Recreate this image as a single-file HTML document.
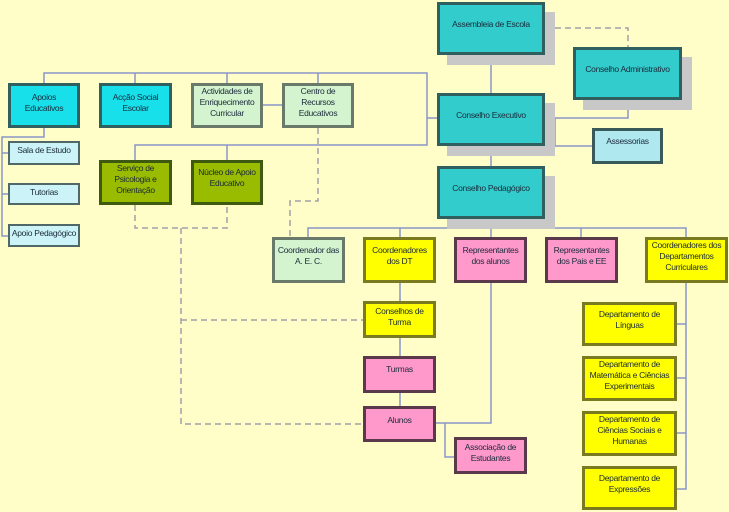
<!DOCTYPE html>
<html><head><meta charset="utf-8"><style>
body{margin:0;width:729px;height:512px;background:#fffdc8;position:relative;overflow:hidden;font-family:"Liberation Sans",sans-serif;}
.b{position:absolute;box-sizing:border-box;border:3px solid #3a5a5a;font-size:8.5px;letter-spacing:-0.3px;line-height:11px;text-align:center;color:#1a2a3a;padding:2px 0 0 0;white-space:nowrap;overflow:visible;}
.sh{position:absolute;background:#c8c8c8;}
.t{background:#33cccc;border-color:#2f5f5f;}
.tb{background:#18e0ea;border-color:#2f5f5f;}
.lc{background:#ccf4f8;border-width:2px;border-color:#506868;}
.lg{background:#d4f4d0;border-color:#6a7a6a;}
.g{background:#99bb00;border-color:#3d5a10;}
.y{background:#ffff00;border-color:#7a7a20;}
.p{background:#ff99cc;border-color:#5a3a4a;}
svg{position:absolute;left:0;top:0;}
</style></head><body>
<svg width="729" height="512">
<g stroke="#8a96c8" stroke-width="1.5" fill="none">
<polyline points="44,83 44,73 427,73 427,145 135,145 135,160"/>
<line x1="135" y1="73" x2="135" y2="83"/><line x1="227" y1="73" x2="227" y2="83"/><line x1="318" y1="73" x2="318" y2="83"/>
<line x1="227" y1="145" x2="227" y2="160"/>
<line x1="427" y1="118" x2="437" y2="118"/>
<line x1="263" y1="105" x2="282" y2="105"/>
<polyline points="44,128 44,137 2,137 2,236 8,236"/>
<line x1="2" y1="153" x2="8" y2="153"/><line x1="2" y1="194" x2="8" y2="194"/>
<line x1="491" y1="55" x2="491" y2="93"/><line x1="491" y1="146" x2="491" y2="166"/>
<polyline points="545,118 628,118 628,100"/>
<polyline points="555,118 555,146 592,146"/>
<line x1="491" y1="219" x2="491" y2="237"/>
<polyline points="308,237 308,228 686,228 686,237"/>
<line x1="400" y1="228" x2="400" y2="237"/><line x1="581" y1="228" x2="581" y2="237"/>
<line x1="400" y1="283" x2="400" y2="406"/>
<polyline points="491,283 491,423 436,423"/>
<polyline points="445,423 445,457 454,457"/>
<polyline points="686,283 686,489 677,489"/>
<line x1="677" y1="324" x2="686" y2="324"/><line x1="677" y1="378" x2="686" y2="378"/><line x1="677" y1="433" x2="686" y2="433"/>
</g>
<g stroke="#a0a0a8" stroke-width="1.5" fill="none" stroke-dasharray="6,4">
<polyline points="545,28 628,28 628,47"/>
<polyline points="318,128 318,201 290,201 290,237"/>
<polyline points="135,205 135,228 227,228 227,205"/>
<polyline points="181,228 181,424 363,424"/>
<line x1="181" y1="320" x2="363" y2="320"/>
</g>
</svg>
<div class="sh" style="left:447px;top:12px;width:108px;height:53px"></div>
<div class="sh" style="left:583px;top:57px;width:109px;height:53px"></div>
<div class="sh" style="left:447px;top:103px;width:108px;height:53px"></div>
<div class="sh" style="left:447px;top:176px;width:108px;height:53px"></div>
<div class="b t" style="left:437px;top:2px;width:108px;height:53px;padding-top:14px">Assembleia de Escola</div>
<div class="b t" style="left:573px;top:47px;width:109px;height:53px;padding-top:14px">Conselho Administrativo</div>
<div class="b t" style="left:437px;top:93px;width:108px;height:53px;padding-top:14px">Conselho Executivo</div>
<div class="b t" style="left:437px;top:166px;width:108px;height:53px;padding-top:14px">Conselho Pedagógico</div>
<div class="b" style="left:592px;top:128px;width:71px;height:36px;background:#b0e8f0;border-color:#3a5a5a;padding-top:5px">Assessorias</div>
<div class="b tb" style="left:8px;top:83px;width:72px;height:45px;padding-top:6px">Apoios<br>Educativos</div>
<div class="b tb" style="left:99px;top:83px;width:73px;height:45px;padding-top:6px">Acção Social<br>Escolar</div>
<div class="b lg" style="left:191px;top:83px;width:72px;height:45px;padding-top:0">Actividades de<br>Enriquecimento<br>Curricular</div>
<div class="b lg" style="left:282px;top:83px;width:72px;height:45px;padding-top:0">Centro de<br>Recursos<br>Educativos</div>
<div class="b lc" style="left:8px;top:141px;width:72px;height:24px">Sala de Estudo</div>
<div class="b lc" style="left:8px;top:183px;width:72px;height:22px">Tutorias</div>
<div class="b lc" style="left:8px;top:224px;width:72px;height:23px">Apoio Pedagógico</div>
<div class="b g" style="left:99px;top:160px;width:73px;height:45px;padding-top:0">Serviço de<br>Psicologia e<br>Orientação</div>
<div class="b g" style="left:191px;top:160px;width:72px;height:45px;padding-top:4px">Núcleo de Apoio<br>Educativo</div>
<div class="b lg" style="left:272px;top:237px;width:73px;height:46px;padding-top:5px">Coordenador das<br>A. E. C.</div>
<div class="b y" style="left:363px;top:237px;width:73px;height:46px;padding-top:5px">Coordenadores<br>dos DT</div>
<div class="b p" style="left:454px;top:237px;width:73px;height:46px;padding-top:5px">Representantes<br>dos alunos</div>
<div class="b p" style="left:545px;top:237px;width:73px;height:46px;padding-top:5px">Representantes<br>dos Pais e EE</div>
<div class="b y" style="left:645px;top:237px;width:83px;height:46px;padding-top:0">Coordenadores dos<br>Departamentos<br>Curriculares</div>
<div class="b y" style="left:363px;top:301px;width:73px;height:37px">Conselhos de<br>Turma</div>
<div class="b p" style="left:363px;top:356px;width:73px;height:37px;padding-top:5px">Turmas</div>
<div class="b p" style="left:363px;top:406px;width:73px;height:36px;padding-top:6px">Alunos</div>
<div class="b p" style="left:454px;top:437px;width:73px;height:37px">Associação de<br>Estudantes</div>
<div class="b y" style="left:582px;top:302px;width:95px;height:44px;padding-top:4px">Departamento de<br>Línguas</div>
<div class="b y" style="left:582px;top:356px;width:95px;height:45px;padding-top:0">Departamento de<br>Matemática e Ciências<br>Experimentais</div>
<div class="b y" style="left:582px;top:411px;width:95px;height:45px;padding-top:0">Departamento de<br>Ciências Sociais e<br>Humanas</div>
<div class="b y" style="left:582px;top:466px;width:95px;height:44px;padding-top:4px">Departamento de<br>Expressões</div>
</body></html>
